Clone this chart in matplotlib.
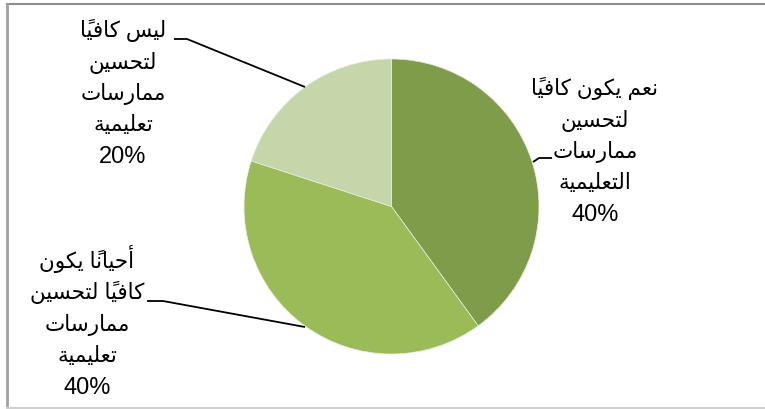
import matplotlib
matplotlib.use('Agg')
import matplotlib.pyplot as plt

# slices in drawing order: clockwise from 12 o'clock
labels = ['نعم يكون كافياً\nلتحسين\nممارسات\nالتعليمية',
          'أحياناً يكون\nكافياً لتحسين\nممارسات\nتعليمية',
          'ليس كافياً\nلتحسين\nممارسات\nتعليمية']
values = [40, 40, 20]
colors = ['#7F9C4A', '#9BBB59', '#C4D6AA']

# joining forms: base code point of the presentation forms,
# 4 = dual joining (iso, fin, ini, med), 2 = right joining (iso, fin)
FORMS = {
    'ا': (0xFE8D, 2), 'أ': (0xFE83, 2), 'ة': (0xFE93, 2), 'ر': (0xFEAD, 2),
    'و': (0xFEED, 2), 'ت': (0xFE95, 4), 'ح': (0xFEA1, 4), 'س': (0xFEB1, 4),
    'ع': (0xFEC9, 4), 'ف': (0xFED1, 4), 'ك': (0xFED9, 4), 'ل': (0xFEDD, 4),
    'م': (0xFEE1, 4), 'ن': (0xFEE5, 4), 'ي': (0xFEF1, 4),
}
MARKS = {'\u064B'}


def shape_line(s):
    # group base letters with their marks
    clusters = []
    for ch in s:
        if ch in MARKS and clusters:
            clusters[-1][1] += ch
        else:
            clusters.append([ch, ''])
    out = []
    for i, (ch, mk) in enumerate(clusters):
        if ch not in FORMS:
            out.append(ch + mk)
            continue
        base, kind = FORMS[ch]
        prev = clusters[i - 1][0] if i > 0 else ''
        nxt = clusters[i + 1][0] if i + 1 < len(clusters) else ''
        join_prev = prev in FORMS and FORMS[prev][1] == 4
        join_next = kind == 4 and nxt in FORMS
        if join_prev and join_next:
            g = base + 3
        elif join_next:
            g = base + 2
        elif join_prev:
            g = base + 1
        else:
            g = base
        out.append(chr(g) + mk)
    # visual order for left-to-right drawing
    return ''.join(reversed(out))


W, H = 765, 410
fig = plt.figure(figsize=(W / 100, H / 100), dpi=100)
ax = fig.add_axes([0, 0, 1, 1])

cx, cy, r = 391.5, H - 207.5, 147.5
wedges, _ = ax.pie(values, colors=colors, startangle=90, counterclock=False,
                   center=(cx, cy), radius=r,
                   wedgeprops=dict(edgecolor='#e8eee0', linewidth=0.5))
ax.set_xlim(0, W)
ax.set_ylim(0, H)
ax.set_aspect('equal')
ax.axis('off')

# label centre x, first baseline y and leader lines, pixel coords
label_pos = [(595, 95), (87, 268), (123, 37)]
line_step = 31.5
leaders = [
    [(533, 163), (539, 159), (552, 159)],
    [(147, 302), (163, 302), (305, 328)],
    [(174, 40), (187, 40), (305, 88)],
]
fam = ['Liberation Sans', 'DejaVu Sans']
for lab, v, (tx, ty), pts in zip(labels, values, label_pos, leaders):
    rows = lab.split('\n')
    for k, row in enumerate(rows):
        ax.text(tx, H - (ty + k * line_step), shape_line(row), ha='center',
                va='baseline', fontsize=15.5, family=fam, color='black')
    ax.text(tx, H - (ty + len(rows) * line_step), '%d%%' % v, ha='center',
            va='baseline', fontsize=17, family=fam, color='black')
    xs = [p[0] for p in pts]
    ys = [H - p[1] for p in pts]
    ax.plot(xs, ys, color='black', lw=1.3, solid_capstyle='butt')

# outer frame of the chart area
ax.plot([7, W], [H - 5, H - 5], color='#8c8c8c', lw=1.5)
ax.plot([7, 7], [H - 5, 0], color='#a0a0a0', lw=2)
ax.plot([7, W], [H - 409, H - 409], color='#d0d0d0', lw=1.5)

fig.savefig('out.png', dpi=100)
